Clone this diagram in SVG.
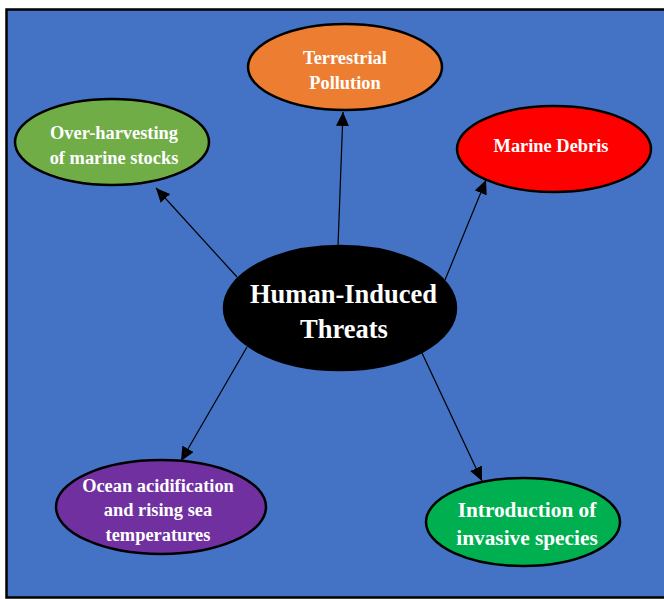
<svg xmlns="http://www.w3.org/2000/svg" width="664" height="599" viewBox="0 0 664 599">
<style>
.node ellipse{stroke:#000;stroke-width:2.5}
.node text{font-family:"Liberation Serif","Times New Roman",serif;font-weight:bold;fill:#fff;text-anchor:middle}
.t18{font-size:18.4px}
.t21{font-size:21.3px}
.t26{font-size:26.5px}
.conn line{stroke:#000;stroke-width:1.2;marker-end:url(#arr)}
</style>
<defs>
<marker id="arr" markerUnits="userSpaceOnUse" markerWidth="14" markerHeight="13" refX="14" refY="6.5" orient="auto">
<path d="M0,0 L14,6.5 L0,13 z" fill="#000"/>
</marker>
</defs>
<rect width="664" height="599" fill="#fff"/>
<rect x="6.5" y="9.5" width="700" height="588" fill="#4472C4" stroke="#000" stroke-width="2.5"/>
<g id="connectors" class="conn">
<line x1="338" y1="246" x2="343" y2="112"/>
<line x1="237" y1="277" x2="156" y2="188"/>
<line x1="445" y1="280" x2="486" y2="180"/>
<line x1="247" y1="347" x2="181" y2="461"/>
<line x1="422" y1="353" x2="482" y2="481"/>
</g>
<g id="center" class="node">
<ellipse cx="340" cy="308" rx="116" ry="62" fill="#000"/>
<text class="t26" x="343.5" y="303">Human-Induced</text>
<text class="t26" x="344" y="338">Threats</text>
</g>
<g id="terrestrial" class="node">
<ellipse cx="345" cy="67" rx="97" ry="43" fill="#ED7D31"/>
<text class="t18" x="345" y="64">Terrestrial</text>
<text class="t18" x="345" y="89">Pollution</text>
</g>
<g id="overharvesting" class="node">
<ellipse cx="112" cy="142" rx="97" ry="43" fill="#70AD47"/>
<text class="t18" x="114" y="139">Over-harvesting</text>
<text class="t18" x="114" y="164">of marine stocks</text>
</g>
<g id="marinedebris" class="node">
<ellipse cx="554" cy="149" rx="97" ry="43" fill="#FF0000"/>
<text class="t18" x="551" y="152">Marine Debris</text>
</g>
<g id="acidification" class="node">
<ellipse cx="161" cy="507" rx="105" ry="47" fill="#7030A0"/>
<text class="t18" x="158" y="492">Ocean acidification</text>
<text class="t18" x="158" y="516">and rising sea</text>
<text class="t18" x="158" y="541">temperatures</text>
</g>
<g id="invasive" class="node">
<ellipse cx="523" cy="522" rx="97" ry="44" fill="#00B050"/>
<text class="t21" x="527" y="517">Introduction of</text>
<text class="t21" x="527" y="545">invasive species</text>
</g>
</svg>
